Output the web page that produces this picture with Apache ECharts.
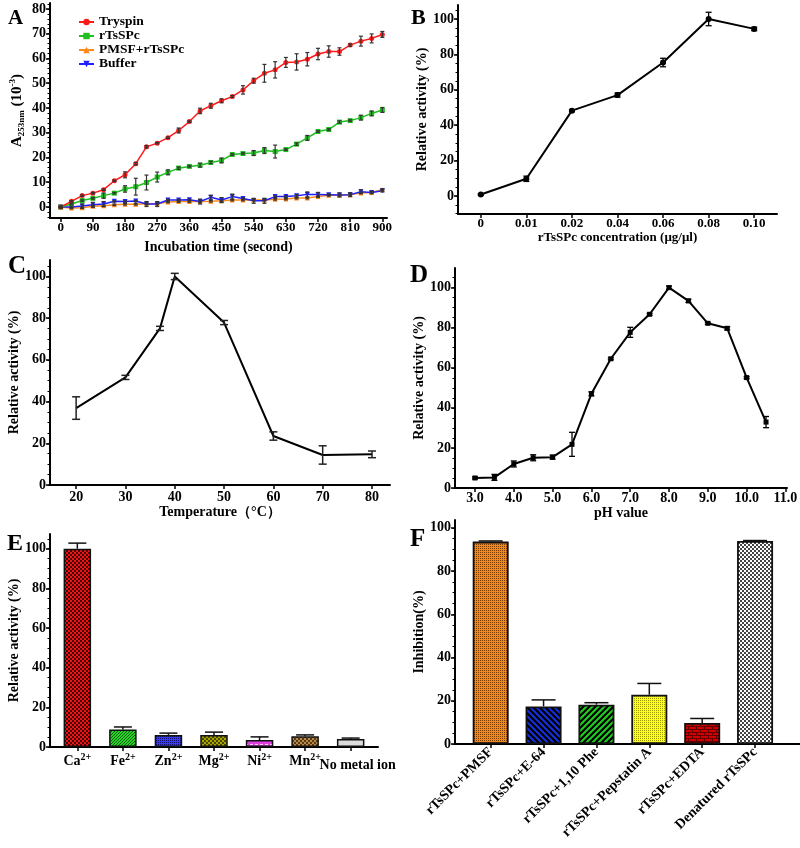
<!DOCTYPE html>
<html><head><meta charset="utf-8">
<script src="https://cdn.jsdelivr.net/npm/echarts@6/dist/echarts.min.js"></script>
<style>html,body{margin:0;padding:0;background:#fff}#c{width:800px;height:848px}</style>
</head><body><div id="c"></div>
<script>
// ---------- Panel A : substrate hydrolysis over time ----------
const timeSec = [0,30,60,90,120,150,180,210,240,270,300,330,360,390,420,450,480,510,540,570,600,630,660,690,720,750,780,810,840,870,900];
const timeTicks = [0,90,180,270,360,450,540,630,720,810,900];
const absTicks = [0,10,20,30,40,50,60,70,80];
const tryspin    = [0,2.3,4.6,5.6,7.0,10.6,13.0,17.5,24.3,25.8,28.0,30.9,34.5,38.8,40.9,42.9,44.6,47.3,51.0,54.0,55.4,58.4,58.6,59.7,61.8,62.8,62.8,65.4,67.0,68.1,69.7];
const tryspinErr = [0.3,0.3,0.3,0.3,0.3,0.3,1.2,0.5,0.5,0.3,0.3,1.0,0.3,1.1,1.0,0.8,0.4,1.7,1.0,3.6,3.3,2.0,3.3,2.7,2.3,2.3,1.5,0.5,2.0,1.8,1.2];
const rTsSPc     = [0,1.2,2.6,3.5,4.6,5.6,7.3,8.2,9.9,12.1,14.0,15.7,16.4,16.9,18.0,18.8,21.2,21.6,21.8,22.8,22.4,23.2,25.4,27.9,30.5,31.3,34.3,34.9,36.1,37.8,39.2];
const rTsSPcErr  = [0.3,0.3,0.3,0.3,1.1,0.3,1.3,3.4,3.0,2.0,1.0,0.5,0.3,0.8,0.5,1.0,0.3,0.3,1.0,1.2,2.6,0.3,0.5,1.0,0.3,0.3,0.5,0.3,1.0,1.0,1.0];
const pmsf       = [0,-0.4,-0.3,0.3,0.5,0.9,1.1,1.1,1.3,1.3,2.0,2.2,2.2,2.2,2.3,2.5,2.8,2.8,2.8,2.8,3.1,3.2,3.6,3.6,4.2,4.7,4.7,5.0,5.7,5.9,7.0];
const pmsfErr    = [0.3,0.3,0.3,0.3,0.3,0.3,0.3,0.3,0.3,0.3,0.3,0.3,0.3,0.3,0.3,0.3,0.3,0.3,0.3,0.3,0.3,0.3,0.3,0.3,0.3,0.3,0.3,0.3,0.3,0.3,0.4];
const buffer     = [0,0,0.4,0.9,1.2,2.3,2.2,2.4,1.2,1.2,2.8,2.8,2.9,2.2,3.9,2.8,4.2,3.4,2.5,2.5,4.2,4.2,4.5,5.1,5.1,5.0,4.9,5.0,6.2,5.9,6.6];
const bufferErr  = [0.2,0.3,0.8,1.0,1.0,0.3,0.3,0.3,1.0,1.0,0.3,0.3,0.3,1.0,0.8,1.0,1.0,0.3,1.0,1.0,0.3,0.3,0.5,1.0,0.8,0.3,0.8,0.8,0.8,0.5,0.5];
// ---------- Panel B : concentration ----------
const concLabels = ['0','0.01','0.02','0.04','0.06','0.08','0.10'];
const concActivity = [0.8,9.7,48.2,57.0,75.4,100,94.4];
const concErr = [0.5,1.5,0.6,1.2,2.4,3.8,1.0];
// ---------- Panel C : temperature ----------
const tempC = [20,30,37,40,50,60,70,80];
const tempTicks = [20,30,40,50,60,70,80];
const tempActivity = [36.9,51.6,75.1,100,77.9,23.5,14.4,14.7];
const tempErr = [5.4,1.0,1.0,1.5,1.0,2.0,4.4,1.6];
// ---------- Panel D : pH ----------
const pHValues = [3.0,3.5,4.0,4.5,5.0,5.5,6.0,6.5,7.0,7.5,8.0,8.5,9.0,9.5,10.0,10.5];
const pHTicks = [3,4,5,6,7,8,9,10,11];
const pHActivity = [5.0,5.3,12.0,15.1,15.4,21.8,47.0,64.5,77.7,86.7,100,93.4,82.2,79.7,55.1,32.9];
const pHErr = [0.5,1.5,1.5,1.5,1.0,6.0,1.0,0.5,2.5,0.5,0.8,0.8,0.5,0.8,0.5,2.8];
// ---------- Panel E : metal ions ----------
const metals = ['Ca','Fe','Zn','Mg','Ni','Mn','No metal ion'];
const metalCharge = ['2+','2+','2+','2+','2+','2+',''];
const metalActivity = [100,8.8,6.1,6.1,3.5,5.4,4.0];
const metalErr = [2.8,1.3,0.9,1.4,1.6,0.7,0.5];
// ---------- Panel F : inhibitors ----------
const inhibitors = ['rTsSPc+PMSF','rTsSPc+E-64','rTsSPc+1,10 Phe','rTsSPc+Pepstatin A','rTsSPc+EDTA','Denatured rTsSPc'];
const inhibition = [93.6,17.4,18.2,22.8,9.7,93.9];
const inhibitionErr = [0.3,3.0,0.9,5.2,2.1,0.2];
const pctTicks = [0,20,40,60,80,100];

const F = '"Liberation Serif","Times New Roman",serif';
const K = '#000';

// ---- patterns ----
function mk(w,h,draw){const c=document.createElement('canvas');c.width=w;c.height=h;const g=c.getContext('2d');draw(g,w,h);return {image:c,repeat:'repeat'};}
const checker=(bg,fg,s)=>mk(2*s,2*s,g=>{g.fillStyle=bg;g.fillRect(0,0,2*s,2*s);g.fillStyle=fg;g.fillRect(0,0,s,s);g.fillRect(s,s,s,s);});
const stripes=(bg,fg,p,lw,dir)=>mk(p,p,g=>{g.fillStyle=bg;g.fillRect(0,0,p,p);g.strokeStyle=fg;g.lineWidth=lw;g.beginPath();
  if(dir>0){g.moveTo(-p,2*p);g.lineTo(2*p,-p);g.moveTo(-p,p);g.lineTo(p,-p);g.moveTo(0,2*p);g.lineTo(2*p,0);}
  else{g.moveTo(-p,-p);g.lineTo(2*p,2*p);g.moveTo(-p,0);g.lineTo(p,2*p);g.moveTo(0,-p);g.lineTo(2*p,p);}
  g.stroke();});
const dots=(bg,fg,p,r)=>mk(p,p,g=>{g.fillStyle=bg;g.fillRect(0,0,p,p);g.fillStyle=fg;g.fillRect(0,0,r,r);});
const hdash=(bg,fg,p,q)=>mk(p,q,g=>{g.fillStyle=bg;g.fillRect(0,0,p,q);g.fillStyle=fg;g.fillRect(0,0,p-2,1);});
const bricks=(bg,fg)=>mk(8,6,g=>{g.fillStyle=bg;g.fillRect(0,0,8,6);g.fillStyle=fg;g.fillRect(0,0,8,1);g.fillRect(0,3,8,1);g.fillRect(0,0,1,3);g.fillRect(4,3,1,3);});

const metalFill = [checker('#ee1515','#4a0000',2), stripes('#25d525','#0a3a0a',3,0.8,1), dots('#3b3bf0','#10106a',2,1),
  checker('#a8a400','#4a4800',2), hdash('#e040e0','#ffd0ff',5,4), checker('#b88a50','#5a3a10',2), '#dcdcdc'];
const inhFill = [dots('#f08a20','#7a3a00',2,1), stripes('#1530e0','#000000',6,2.2,-1), stripes('#20d020','#000000',6,2.2,1),
  dots('#ffff22','#9a9a00',2,1), bricks('#d00000','#600000'), checker('#ffffff','#444444',2)];

// ---- helpers ----
const lbl = (o)=>Object.assign({color:K,fontFamily:F,fontWeight:'bold',fontSize:14},o||{});
function vAxis(gi,min,max,ticks,extra){
  return Object.assign({type:'value',gridIndex:gi,min:min,max:max,
    axisLine:{show:true,onZero:false,lineStyle:{color:K,width:2}},
    axisTick:{show:true,customValues:ticks,length:4,lineStyle:{color:K,width:1.5}},
    axisLabel:lbl({customValues:ticks,margin:4,showMinLabel:true,showMaxLabel:true}),
    splitLine:{show:false},
    nameLocation:'middle',nameTextStyle:lbl()},extra||{});
}
function minorAxis(gi,min,max,vals){
  return {type:'value',gridIndex:gi,min:min,max:max,position:'left',offset:0,
    axisLine:{show:false,onZero:false},axisLabel:{show:false},splitLine:{show:false},
    axisTick:{show:true,customValues:vals,length:2.5,lineStyle:{color:K,width:1}}};
}
function range(a,b,s){const r=[];for(let v=a;v<=b+1e-9;v+=s)r.push(+v.toFixed(6));return r;}
function errBars(gi,xs,ys,es,o){
  return {type:'custom',xAxisIndex:gi,yAxisIndex:gi,z:o.z||5,silent:true,
    data:xs.map((x,i)=>[x,ys[i],es[i]]),
    renderItem:function(params,api){
      const x=api.value(0),y=api.value(1),e=api.value(2);
      const p1=api.coord([x,y+e]);const p0=api.coord([x,o.up?y:y-e]);
      const hw=o.cap/2;const st={stroke:o.color,lineWidth:o.lw};
      const ch=[{type:'line',shape:{x1:p1[0],y1:p1[1],x2:p0[0],y2:p0[1]},style:st},
                {type:'line',shape:{x1:p1[0]-hw,y1:p1[1],x2:p1[0]+hw,y2:p1[1]},style:st}];
      if(!o.up)ch.push({type:'line',shape:{x1:p0[0]-hw,y1:p0[1],x2:p0[0]+hw,y2:p0[1]},style:st});
      return {type:'group',children:ch};
    }};
}
const pairs=(xs,ys)=>xs.map((x,i)=>[x,ys[i]]);

// ---- ranges ----
const R = {
  A:{x:[-30,913],y:[-4.44,82.4]},
  B:{y:[-10.2,107.9]},
  C:{x:[14.7,83.65],y:[0,107.9]},
  D:{x:[2.485,11.04],y:[0,109.8]},
  E:{x:[-0.6,6.6],y:[0,107.4]},
  F:{x:[-0.675,5.85],y:[0,103.6]}
};
const ionIdx = metals.map((m,i)=>i).filter(i=>metalCharge[i]);
const plainIdx = metals.map((m,i)=>i).filter(i=>!metalCharge[i]);

const chart = echarts.init(document.getElementById('c'));
const aLine=(name,data,color,symbol,rot)=>({type:'line',name:name,xAxisIndex:0,yAxisIndex:0,data:pairs(timeSec,data),
  symbol:symbol,symbolSize:5,symbolRotate:rot||0,itemStyle:{color:color},lineStyle:{color:color,width:1.5},z:3,animation:false});

const option = {
  animation:false,
  backgroundColor:'#fff',
  title:[
    {text:'A',left:3,top:3,textStyle:lbl({fontSize:21})},
    {text:'B',left:406,top:2,textStyle:lbl({fontSize:22})},
    {text:'C',left:3,top:249,textStyle:lbl({fontSize:25})},
    {text:'D',left:405,top:258,textStyle:lbl({fontSize:25})},
    {text:'E',left:2,top:527,textStyle:lbl({fontSize:24})},
    {text:'F',left:405,top:522,textStyle:lbl({fontSize:25})}
  ],
  legend:{left:73,top:10,orient:'vertical',itemGap:0,itemWidth:15,itemHeight:8,
    textStyle:lbl({fontSize:13.5}),data:['Tryspin','rTsSPc','PMSF+rTsSPc','Buffer']},
  grid:[
    {left:50,top:3,width:337,height:215,outerBoundsMode:'none'},
    {left:458,top:5,width:319,height:209,outerBoundsMode:'none'},
    {left:50,top:260,width:340,height:225,outerBoundsMode:'none'},
    {left:455,top:268,width:332,height:220,outerBoundsMode:'none'},
    {left:50,top:534,width:328,height:213,outerBoundsMode:'none'},
    {left:455,top:520,width:345,height:224,outerBoundsMode:'none'}
  ],
  xAxis:[
    vAxis(0,R.A.x[0],R.A.x[1],timeTicks,{name:'Incubation time (second)',nameGap:22,axisLabel:lbl({customValues:timeTicks,margin:3,fontSize:13,showMinLabel:true,showMaxLabel:true})}),
    {type:'category',gridIndex:1,data:concLabels,boundaryGap:true,
      axisLine:{show:true,onZero:false,lineStyle:{color:K,width:2}},
      axisTick:{show:true,alignWithLabel:true,length:4,lineStyle:{color:K,width:1.5}},
      axisLabel:lbl({margin:3,fontSize:13,interval:0}),name:'rTsSPc concentration (μg/μl)',nameLocation:'middle',nameGap:17,nameTextStyle:lbl({fontSize:13})},
    vAxis(2,R.C.x[0],R.C.x[1],tempTicks,{name:'Temperature（°C）',nameGap:17,axisLabel:lbl({customValues:tempTicks,margin:5,showMinLabel:true,showMaxLabel:true})}),
    vAxis(3,R.D.x[0],R.D.x[1],pHTicks,{name:'pH value',nameGap:15,axisLabel:lbl({customValues:pHTicks,margin:3,showMinLabel:true,showMaxLabel:true,formatter:v=>v.toFixed(1)})}),
    vAxis(4,R.E.x[0],R.E.x[1],[0,1,2,3,4,5,6],{axisLabel:{customValues:ionIdx,margin:5,hideOverlap:false,showMinLabel:true,showMaxLabel:true,
      formatter:v=>'{b|'+metals[v]+'}{s|'+metalCharge[v]+'}',
      rich:{b:lbl({fontSize:14,lineHeight:16,verticalAlign:'bottom'}),s:lbl({fontSize:10,lineHeight:10,verticalAlign:'top'})}}}),
    vAxis(5,R.F.x[0],R.F.x[1],[0,1,2,3,4,5],{axisLabel:lbl({customValues:[0,1,2,3,4,5],rotate:45,margin:6,showMinLabel:true,showMaxLabel:true,formatter:v=>inhibitors[v]})}),
    {type:'value',gridIndex:4,min:R.E.x[0],max:R.E.x[1],position:'bottom',offset:0,
      axisLine:{show:false,onZero:false},axisTick:{show:false},splitLine:{show:false},
      axisLabel:lbl({customValues:plainIdx,margin:11,showMinLabel:true,showMaxLabel:true,padding:[0,0,0,14],formatter:v=>metals[v]})}
  ],
  yAxis:[
    vAxis(0,R.A.y[0],R.A.y[1],absTicks,{name:'{m|A}{s|253nm}{m| (10}{p|-3}{m|)}',nameGap:24,
      nameTextStyle:{rich:{m:lbl({fontSize:15,lineHeight:18}),s:lbl({fontSize:9,lineHeight:9,verticalAlign:'bottom'}),p:lbl({fontSize:9,lineHeight:9,verticalAlign:'top'})}}}),
    vAxis(1,R.B.y[0],R.B.y[1],pctTicks,{name:'Relative activity (%)',nameGap:28}),
    vAxis(2,R.C.y[0],R.C.y[1],pctTicks,{name:'Relative activity (%)',nameGap:25}),
    vAxis(3,R.D.y[0],R.D.y[1],pctTicks,{name:'Relative activity (%)',nameGap:25}),
    vAxis(4,R.E.y[0],R.E.y[1],pctTicks,{name:'Relative activity (%)',nameGap:28}),
    vAxis(5,R.F.y[0],R.F.y[1],pctTicks,{name:'Inhibition(%)',nameGap:29}),
    minorAxis(0,R.A.y[0],R.A.y[1],range(-4,82,2)),
    minorAxis(1,R.B.y[0],R.B.y[1],range(-10,105,5)),
    minorAxis(2,R.C.y[0],R.C.y[1],range(0,105,5)),
    minorAxis(3,R.D.y[0],R.D.y[1],range(0,105,5)),
    minorAxis(4,R.E.y[0],R.E.y[1],range(0,105,5)),
    minorAxis(5,R.F.y[0],R.F.y[1],range(0,100,5))
  ],
  series:[
    aLine('PMSF+rTsSPc',pmsf,'#ff8a1a','triangle'),
    aLine('Buffer',buffer,'#2020ff','triangle',180),
    aLine('rTsSPc',rTsSPc,'#1fbf1f','rect'),
    aLine('Tryspin',tryspin,'#ff1a1a','circle'),
    errBars(0,timeSec,tryspin,tryspinErr,{cap:4,color:'#333',lw:1.2}),
    errBars(0,timeSec,rTsSPc,rTsSPcErr,{cap:4,color:'#333',lw:1.2}),
    errBars(0,timeSec,pmsf,pmsfErr,{cap:4,color:'#333',lw:1.2}),
    errBars(0,timeSec,buffer,bufferErr,{cap:4,color:'#333',lw:1.2}),
    {type:'line',xAxisIndex:1,yAxisIndex:1,data:concActivity,symbol:'circle',symbolSize:6,
      itemStyle:{color:K},lineStyle:{color:K,width:2}},
    errBars(1,concLabels.map((c,i)=>i),concActivity,concErr,{cap:6,color:K,lw:1.3}),
    {type:'line',xAxisIndex:2,yAxisIndex:2,data:pairs(tempC,tempActivity),symbol:'none',lineStyle:{color:K,width:2}},
    errBars(2,tempC,tempActivity,tempErr,{cap:8,color:'#222',lw:1.5}),
    {type:'line',xAxisIndex:3,yAxisIndex:3,data:pairs(pHValues,pHActivity),symbol:'rect',symbolSize:5,
      itemStyle:{color:K},lineStyle:{color:K,width:2}},
    errBars(3,pHValues,pHActivity,pHErr,{cap:6,color:K,lw:1.3}),
    {type:'bar',xAxisIndex:4,yAxisIndex:4,barWidth:27.5,
      data:metalActivity.map((v,i)=>({value:[i,v],itemStyle:{color:metalFill[i]}})),
      itemStyle:{borderColor:'#111',borderWidth:1.5}},
    errBars(4,metals.map((m,i)=>i),metalActivity,metalErr,{cap:18,color:'#111',lw:1.5,up:true}),
    {type:'bar',xAxisIndex:5,yAxisIndex:5,barWidth:36,
      data:inhibition.map((v,i)=>({value:[i,v],itemStyle:{color:inhFill[i]}})),
      itemStyle:{borderColor:'#111',borderWidth:1.8}},
    errBars(5,inhibitors.map((m,i)=>i),inhibition,inhibitionErr,{cap:24,color:'#111',lw:1.5,up:true})
  ]
};
chart.setOption(option);
</script></body></html>
